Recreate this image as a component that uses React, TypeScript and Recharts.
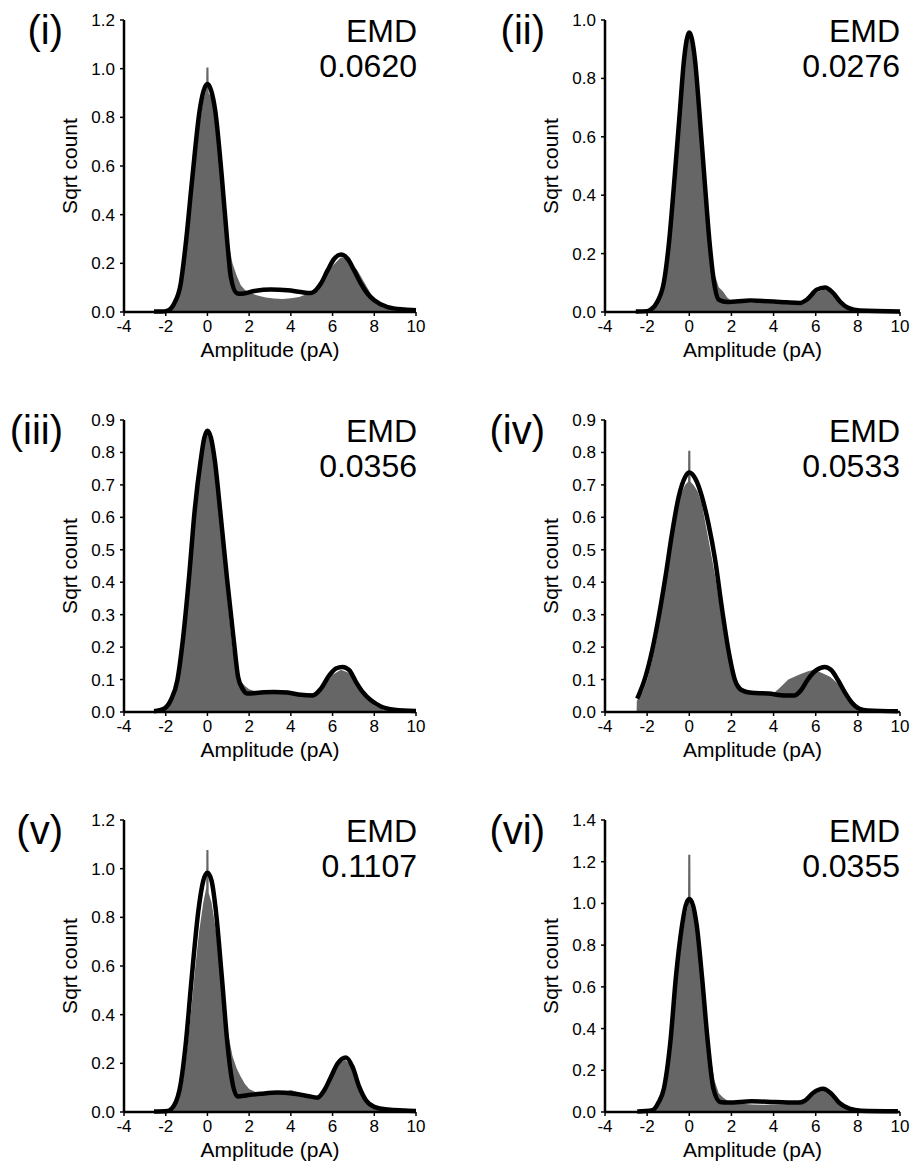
import React from 'react';
import { ComposedChart, Area, Line, XAxis, YAxis } from 'recharts';

type Pt = [number, number];

const xTicks = [-4, -2, 0, 2, 4, 6, 8, 10];
const panelLabels = ['(i)', '(ii)', '(iii)', '(iv)', '(v)', '(vi)'];
const emdValues = ['0.0620', '0.0276', '0.0356', '0.0533', '0.1107', '0.0355'];
const xTitle = 'Amplitude (pA)';
const yTitle = 'Sqrt count';

const yTicks1 = [0, 0.2, 0.4, 0.6, 0.8, 1.0, 1.2];
const yTicks2 = [0, 0.2, 0.4, 0.6, 0.8, 1.0];
const yTicks3 = [0, 0.1, 0.2, 0.3, 0.4, 0.5, 0.6, 0.7, 0.8, 0.9];
const yTicks4 = [0, 0.1, 0.2, 0.3, 0.4, 0.5, 0.6, 0.7, 0.8, 0.9];
const yTicks5 = [0, 0.2, 0.4, 0.6, 0.8, 1.0, 1.2];
const yTicks6 = [0, 0.2, 0.4, 0.6, 0.8, 1.0, 1.2, 1.4];

// histogram envelopes [amplitude, sqrt count]
const hist1: Pt[] = [
  [-2.0, 0], [-1.8, 0.01], [-1.6, 0.03], [-1.4, 0.07], [-1.2, 0.13], [-1.0, 0.25], [-0.8, 0.42],
  [-0.6, 0.6], [-0.4, 0.76], [-0.2, 0.87], [-0.06, 0.91], [-0.05, 1.005], [0.05, 1.005], [0.06, 0.9],
  [0.2, 0.88], [0.4, 0.78], [0.6, 0.6], [0.8, 0.42], [1.0, 0.29], [1.2, 0.2], [1.4, 0.15], [1.6, 0.11],
  [1.8, 0.09], [2.0, 0.08], [2.4, 0.068], [2.8, 0.06], [3.2, 0.055], [3.6, 0.053], [4.0, 0.056],
  [4.4, 0.062], [4.8, 0.075], [5.2, 0.1], [5.6, 0.14], [6.0, 0.19], [6.4, 0.225], [6.8, 0.215],
  [7.2, 0.17], [7.6, 0.11], [8.0, 0.05], [8.4, 0.02], [8.8, 0.008], [9.5, 0.004], [10, 0.003],
];
const fit1: Pt[] = [
  [-2.56, 0.002], [-2.2, 0.002], [-1.9, 0.006], [-1.6, 0.034], [-1.28, 0.117], [-1.04, 0.28],
  [-0.72, 0.556], [-0.37, 0.83], [-0.18, 0.91], [0, 0.937], [0.18, 0.91], [0.37, 0.83], [0.69, 0.556],
  [0.96, 0.28], [1.12, 0.144], [1.4, 0.078], [1.6, 0.075], [2.24, 0.086], [3.04, 0.092], [3.84, 0.089],
  [4.48, 0.082], [4.96, 0.078], [5.44, 0.117], [5.76, 0.171], [6.08, 0.219], [6.4, 0.236], [6.72, 0.219],
  [7.04, 0.17], [7.36, 0.117], [7.68, 0.075], [8.0, 0.048], [8.64, 0.02], [9.44, 0.01], [10, 0.007],
];

const hist2: Pt[] = [
  [-2.2, 0], [-1.8, 0.005], [-1.6, 0.02], [-1.4, 0.05], [-1.2, 0.1], [-1.0, 0.2], [-0.8, 0.36],
  [-0.6, 0.55], [-0.4, 0.73], [-0.2, 0.88], [0, 0.95], [0.2, 0.9], [0.4, 0.76], [0.6, 0.57],
  [0.8, 0.38], [1.0, 0.23], [1.2, 0.13], [1.4, 0.085], [1.6, 0.07], [1.8, 0.05], [2.0, 0.038],
  [2.5, 0.032], [3.0, 0.031], [4.0, 0.03], [5.0, 0.03], [5.5, 0.038], [6.0, 0.065], [6.4, 0.078],
  [6.8, 0.065], [7.2, 0.035], [7.6, 0.012], [8.0, 0.004], [10, 0.001],
];
const fit2: Pt[] = [
  [-2.54, 0.002], [-2.0, 0.003], [-1.83, 0.008], [-1.51, 0.036], [-1.2, 0.104], [-0.96, 0.24],
  [-0.69, 0.467], [-0.44, 0.694], [-0.25, 0.864], [0, 0.957], [0.27, 0.864], [0.47, 0.694],
  [0.71, 0.467], [0.96, 0.24], [1.17, 0.104], [1.4, 0.042], [1.8, 0.034], [2.9, 0.039], [4.0, 0.036],
  [4.63, 0.033], [5.26, 0.031], [5.57, 0.042], [6.05, 0.076], [6.44, 0.084], [6.83, 0.065],
  [7.15, 0.036], [7.54, 0.014], [8.1, 0.005], [10, 0.002],
];

const hist3: Pt[] = [
  [-2.3, 0], [-2.0, 0.01], [-1.8, 0.025], [-1.6, 0.05], [-1.4, 0.09], [-1.2, 0.17], [-1.0, 0.3],
  [-0.8, 0.45], [-0.6, 0.6], [-0.4, 0.73], [-0.2, 0.84], [-0.1, 0.87], [0, 0.87], [0.2, 0.83],
  [0.4, 0.74], [0.6, 0.62], [0.8, 0.47], [1.0, 0.32], [1.2, 0.2], [1.4, 0.13], [1.6, 0.095],
  [1.8, 0.08], [2.0, 0.07], [2.4, 0.062], [3.0, 0.06], [3.6, 0.059], [4.2, 0.057], [4.8, 0.055],
  [5.2, 0.06], [5.6, 0.085], [6.0, 0.115], [6.4, 0.13], [6.8, 0.12], [7.2, 0.085], [7.6, 0.045],
  [8.0, 0.02], [8.5, 0.006], [10, 0.001],
];
const fit3: Pt[] = [
  [-2.56, 0.002], [-2.08, 0.01], [-1.76, 0.036], [-1.44, 0.098], [-1.2, 0.21], [-0.88, 0.417],
  [-0.61, 0.622], [-0.32, 0.777], [-0.15, 0.845], [0, 0.867], [0.17, 0.845], [0.35, 0.777],
  [0.61, 0.622], [0.93, 0.417], [1.28, 0.21], [1.47, 0.108], [1.7, 0.07], [1.92, 0.057], [2.56, 0.06],
  [3.2, 0.062], [3.84, 0.06], [4.48, 0.053], [5.04, 0.051], [5.44, 0.072], [5.84, 0.113], [6.16, 0.134],
  [6.48, 0.139], [6.8, 0.129], [7.12, 0.093], [7.44, 0.062], [7.84, 0.036], [8.32, 0.017],
  [8.96, 0.007], [10, 0.003],
];

const hist4: Pt[] = [
  [-2.5, 0], [-2.49, 0.035], [-2.2, 0.065], [-2.0, 0.1], [-1.8, 0.15], [-1.6, 0.21], [-1.4, 0.28],
  [-1.2, 0.36], [-1.0, 0.45], [-0.8, 0.54], [-0.6, 0.61], [-0.4, 0.67], [-0.2, 0.7], [-0.06, 0.71],
  [-0.05, 0.805], [0.05, 0.805], [0.06, 0.71], [0.2, 0.7], [0.4, 0.68], [0.6, 0.64], [0.8, 0.57],
  [1.0, 0.5], [1.2, 0.43], [1.4, 0.35], [1.6, 0.26], [1.8, 0.18], [2.0, 0.14], [2.2, 0.1],
  [2.5, 0.075], [3.0, 0.06], [3.5, 0.057], [4.0, 0.058], [4.3, 0.075], [4.7, 0.1], [5.2, 0.115],
  [5.6, 0.125], [5.9, 0.13], [6.3, 0.12], [6.7, 0.108], [7.1, 0.085], [7.5, 0.05], [8.0, 0.018],
  [8.4, 0.005], [10, 0.001],
];
const fit4: Pt[] = [
  [-2.47, 0.041], [-2.08, 0.108], [-1.76, 0.19], [-1.45, 0.293], [-1.13, 0.417], [-0.82, 0.55],
  [-0.5, 0.664], [-0.19, 0.725], [0, 0.738], [0.28, 0.72], [0.6, 0.664], [0.91, 0.58], [1.23, 0.468],
  [1.54, 0.324], [1.86, 0.19], [2.17, 0.098], [2.49, 0.067], [2.96, 0.059], [3.75, 0.057],
  [4.54, 0.051], [5.0, 0.051], [5.3, 0.067], [5.6, 0.098], [6.03, 0.129], [6.43, 0.139],
  [6.74, 0.129], [7.06, 0.098], [7.37, 0.062], [7.69, 0.031], [8.08, 0.01], [8.47, 0.005],
  [9.9, 0.002],
];

const hist5: Pt[] = [
  [-2.0, 0], [-1.8, 0.005], [-1.6, 0.02], [-1.4, 0.05], [-1.2, 0.11], [-1.0, 0.24], [-0.8, 0.4],
  [-0.6, 0.58], [-0.4, 0.74], [-0.2, 0.86], [-0.06, 0.92], [-0.05, 1.077], [0.05, 1.077], [0.06, 0.9],
  [0.2, 0.86], [0.4, 0.75], [0.6, 0.6], [0.8, 0.45], [1.0, 0.32], [1.2, 0.23], [1.4, 0.18],
  [1.6, 0.145], [1.8, 0.115], [2.0, 0.095], [2.4, 0.078], [2.8, 0.075], [3.2, 0.078], [3.6, 0.083],
  [4.0, 0.09], [4.4, 0.08], [4.8, 0.068], [5.2, 0.065], [5.6, 0.085], [6.0, 0.15], [6.3, 0.2],
  [6.6, 0.215], [6.9, 0.19], [7.2, 0.11], [7.6, 0.045], [8.0, 0.02], [8.5, 0.01], [9.0, 0.008],
  [9.5, 0.014], [10, 0.008],
];
const fit5: Pt[] = [
  [-2.56, 0.002], [-1.92, 0.004], [-1.6, 0.027], [-1.28, 0.117], [-1.04, 0.28], [-0.75, 0.556],
  [-0.43, 0.83], [-0.2, 0.95], [0, 0.983], [0.2, 0.95], [0.4, 0.83], [0.69, 0.556], [0.96, 0.28],
  [1.15, 0.144], [1.44, 0.064], [1.92, 0.069], [2.56, 0.075], [3.36, 0.08], [4.16, 0.075],
  [4.8, 0.066], [5.28, 0.059], [5.6, 0.089], [5.92, 0.144], [6.24, 0.199], [6.64, 0.224],
  [6.96, 0.185], [7.28, 0.103], [7.6, 0.048], [8.0, 0.021], [8.64, 0.01], [10, 0.004],
];

const hist6: Pt[] = [
  [-2.0, 0], [-1.8, 0.008], [-1.6, 0.025], [-1.4, 0.06], [-1.2, 0.12], [-1.0, 0.24], [-0.8, 0.42],
  [-0.6, 0.62], [-0.4, 0.8], [-0.2, 0.93], [-0.06, 0.99], [-0.05, 1.233], [0.05, 1.233], [0.06, 0.99],
  [0.2, 0.95], [0.4, 0.84], [0.6, 0.65], [0.8, 0.45], [1.0, 0.27], [1.2, 0.15], [1.4, 0.09],
  [1.6, 0.07], [1.8, 0.055], [2.0, 0.045], [2.5, 0.04], [3.0, 0.036], [3.5, 0.035], [4.0, 0.036],
  [4.5, 0.037], [5.0, 0.04], [5.4, 0.05], [5.8, 0.08], [6.2, 0.1], [6.5, 0.102], [6.9, 0.07],
  [7.3, 0.03], [7.7, 0.01], [8.2, 0.003], [10, 0.001],
];
const fit6: Pt[] = [
  [-2.47, 0.002], [-1.76, 0.008], [-1.45, 0.048], [-1.21, 0.11], [-0.9, 0.334], [-0.63, 0.652],
  [-0.35, 0.89], [-0.17, 0.99], [0, 1.021], [0.18, 0.99], [0.36, 0.89], [0.6, 0.652], [0.88, 0.334],
  [1.15, 0.11], [1.46, 0.048], [1.86, 0.045], [2.96, 0.051], [4.06, 0.048], [5.17, 0.045],
  [5.48, 0.054], [5.87, 0.091], [6.35, 0.111], [6.74, 0.088], [7.13, 0.043], [7.6, 0.016],
  [8.16, 0.006], [9.9, 0.003],
];

const toRows = (pts: Pt[]) => pts.map(([x, y]) => ({ x, y }));

const panels = [
  { hist: hist1, fit: fit1, yTicks: yTicks1 },
  { hist: hist2, fit: fit2, yTicks: yTicks2 },
  { hist: hist3, fit: fit3, yTicks: yTicks3 },
  { hist: hist4, fit: fit4, yTicks: yTicks4 },
  { hist: hist5, fit: fit5, yTicks: yTicks5 },
  { hist: hist6, fit: fit6, yTicks: yTicks6 },
];

const FONT = '"Liberation Sans", Arial, Helvetica, sans-serif';
const CELL_W = 455;
const CELL_H = 400;

function Panel({ idx }: { idx: number }) {
  const p = panels[idx];
  const col = idx % 2;
  const row = Math.floor(idx / 2);
  const yMax = p.yTicks[p.yTicks.length - 1];
  const margin = col === 0
    ? { top: 20, right: 39, bottom: 12, left: 16 }
    : { top: 20, right: 10, bottom: 12, left: 42 };
  return (
    <div style={{ position: 'absolute', left: col * CELL_W, top: row * CELL_H, width: CELL_W, height: CELL_H }}>
      <ComposedChart width={CELL_W} height={CELL_H} margin={margin}>
        <XAxis
          type="number"
          dataKey="x"
          domain={[-4, 10]}
          ticks={xTicks}
          interval={0}
          height={76}
          tickSize={4}
          tickMargin={4}
          axisLine={{ stroke: '#000', strokeWidth: 2.5 }}
          tickLine={{ stroke: '#000', strokeWidth: 1.5 }}
          tick={{ fill: '#000', fontSize: 17 }}
          label={{ value: xTitle, position: 'center', fontSize: 21, fill: '#000' }}
        />
        <YAxis
          type="number"
          domain={[0, yMax]}
          ticks={p.yTicks}
          interval={0}
          width={108}
          tickSize={4}
          tickMargin={5}
          tickFormatter={(v: number) => v.toFixed(1)}
          axisLine={{ stroke: '#000', strokeWidth: 2.5 }}
          tickLine={{ stroke: '#000', strokeWidth: 1.5 }}
          tick={{ fill: '#000', fontSize: 17 }}
          label={{ value: yTitle, angle: -90, position: 'center', fontSize: 21, fill: '#000' }}
        />
        <Area
          data={toRows(p.hist)}
          dataKey="y"
          type="linear"
          fill="#666666"
          fillOpacity={1}
          stroke="none"
          isAnimationActive={false}
        />
        <Line
          data={toRows(p.fit)}
          dataKey="y"
          type="monotone"
          stroke="#000"
          strokeWidth={4.5}
          dot={false}
          activeDot={false}
          isAnimationActive={false}
        />
      </ComposedChart>
    </div>
  );
}

export default function App() {
  return (
    <div style={{ position: 'absolute', left: 0, top: 0, width: 910, height: 1165, background: '#fff', fontFamily: FONT }}>
      {panels.map((_, i) => <Panel key={i} idx={i} />)}
      <svg width={910} height={1165} style={{ position: 'absolute', left: 0, top: 0, pointerEvents: 'none' }}>
        {panels.map((_, i) => {
          const col = i % 2;
          const row = Math.floor(i / 2);
          const oy = row * CELL_H;
          const labelX = col === 0 ? 63 : 545;
          const emdX = col === 0 ? 417 : 900;
          return (
            <g key={i} fontFamily={FONT} fill="#000">
              <text x={labelX} y={oy + 44} fontSize={40} textAnchor="end">{panelLabels[i]}</text>
              <text x={emdX} y={oy + 42} fontSize={32} textAnchor="end">EMD</text>
              <text x={emdX} y={oy + 77} fontSize={32} textAnchor="end">{emdValues[i]}</text>
            </g>
          );
        })}
      </svg>
    </div>
  );
}
